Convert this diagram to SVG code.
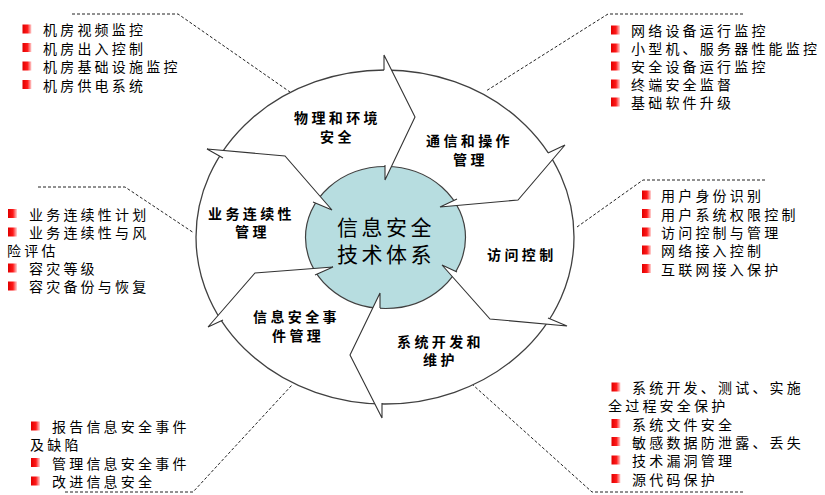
<svg xmlns="http://www.w3.org/2000/svg" xmlns:xlink="http://www.w3.org/1999/xlink" width="825" height="495" viewBox="0 0 825 495">
<style>
text{font-family:"Noto Sans CJK SC","Noto Sans",sans-serif;fill:#000;dominant-baseline:central}
.li{font-size:14px;letter-spacing:3.2px}
.lb{font-size:14px;font-weight:bold;letter-spacing:3.4px}
.ct{font-size:21px;letter-spacing:3.5px}
.dash{fill:none;stroke:#222;stroke-width:1;stroke-dasharray:3 2}
.chev{fill:none;stroke:#333;stroke-width:1.1;stroke-linejoin:miter}
.wing{fill:#fff;stroke:none}
</style>
<defs>
<linearGradient id="rg" x1="0" y1="0" x2="1" y2="0">
<stop offset="0" stop-color="#e00000"/>
<stop offset="0.55" stop-color="#ff1a1a"/>
<stop offset="1" stop-color="#ffd6d6"/>
</linearGradient>
<rect id="b" width="9" height="9" fill="url(#rg)"/>
</defs>
<rect width="825" height="495" fill="#fff"/>

<g id="connectors">
<polyline class="dash" points="72,14 178,14 290,92"/>
<polyline class="dash" points="743,14 608,14 486,91"/>
<polyline class="dash" points="38,187 125,187 194,233"/>
<polyline class="dash" points="765,180 643,180 577,227"/>
<polyline class="dash" points="65,492 193,492 292,385"/>
<polyline class="dash" points="743,492 592,492 473,385"/>
</g>

<g id="cycle">
<ellipse cx="385" cy="237" rx="189" ry="167" fill="#fff" stroke="#404040" stroke-width="1.3"/>
<ellipse cx="385.5" cy="237.5" rx="80" ry="71" fill="#b7dde0" stroke="#404040" stroke-width="1.2"/>
<!-- wings -->
<polygon class="wing" points="384,55 415,117 385,80 384,70"/>
<polygon class="wing" points="415,117 385,180 385,165 385,155"/>
<polygon class="wing" points="565,145 518,200 539,158 548,153"/>
<polygon class="wing" points="518,200 440,207 457,199 466,194"/>
<polygon class="wing" points="490,319 442,265 457,272 466,276"/>
<polygon class="wing" points="567,326 490,319 539,313 548,318"/>
<polygon class="wing" points="350,355 380,293 380,308 380,318"/>
<polygon class="wing" points="382,418 350,355 382,393 382,403"/>
<polygon class="wing" points="255,273 333,267 315,275 306,280"/>
<polygon class="wing" points="208,327 255,273 232,315 223,320"/>
<polygon class="wing" points="207,149 285,156 232,162 223,158"/>
<polygon class="wing" points="285,156 332,210 313,202 304,198"/>
<!-- chevrons -->
<polyline class="chev" points="384,70 384,55 415,117 385,180 385,165"/>
<polyline class="chev" points="548,153 565,145 518,200 440,207 457,199"/>
<polyline class="chev" points="457,272 442,265 490,319 567,326 548,318"/>
<polyline class="chev" points="380,308 380,293 350,355 382,418 382,403"/>
<polyline class="chev" points="315,275 333,267 255,273 208,327 223,320"/>
<polyline class="chev" points="223,158 207,149 285,156 332,210 313,202"/>
</g>

<g id="center">
<text class="ct" x="337" y="226">信息安全</text>
<text class="ct" x="337" y="252.5">技术体系</text>
</g>

<g id="s-physical">
<text class="lb" x="294" y="116.5">物理和环境</text>
<text class="lb" x="320" y="136">安全</text>
</g>
<g id="s-comm">
<text class="lb" x="426" y="140">通信和操作</text>
<text class="lb" x="453" y="159">管理</text>
</g>
<g id="s-access">
<text class="lb" x="487" y="254">访问控制</text>
</g>
<g id="s-dev">
<text class="lb" x="397" y="341">系统开发和</text>
<text class="lb" x="423" y="359">维护</text>
</g>
<g id="s-incident">
<text class="lb" x="253" y="316">信息安全事</text>
<text class="lb" x="272" y="334.5">件管理</text>
</g>
<g id="s-continuity">
<text class="lb" x="208" y="212.5">业务连续性</text>
<text class="lb" x="235" y="231">管理</text>
</g>

<g id="list-physical">
<use href="#b" x="22.5" y="24.5"/><text class="li" x="43" y="29">机房视频监控</text>
<use href="#b" x="22.5" y="43"/><text class="li" x="43" y="47.5">机房出入控制</text>
<use href="#b" x="22.5" y="61.5"/><text class="li" x="43" y="66">机房基础设施监控</text>
<use href="#b" x="22.5" y="80"/><text class="li" x="43" y="84.5">机房供电系统</text>
</g>

<g id="list-comm">
<use href="#b" x="611" y="25.5"/><text class="li" x="631" y="30">网络设备运行监控</text>
<use href="#b" x="611" y="43.5"/><text class="li" x="631" y="48">小型机、服务器性能监控</text>
<use href="#b" x="611" y="61.5"/><text class="li" x="631" y="66">安全设备运行监控</text>
<use href="#b" x="611" y="79.5"/><text class="li" x="631" y="84">终端安全监督</text>
<use href="#b" x="611" y="97.5"/><text class="li" x="631" y="102">基础软件升级</text>
</g>

<g id="list-continuity">
<use href="#b" x="8" y="209"/><text class="li" x="29" y="213.5">业务连续性计划</text>
<use href="#b" x="8" y="227.5"/><text class="li" x="29" y="232">业务连续性与风</text>
<text class="li" x="7" y="250">险评估</text>
<use href="#b" x="8" y="263.5"/><text class="li" x="29" y="268">容灾等级</text>
<use href="#b" x="8" y="281.5"/><text class="li" x="29" y="286">容灾备份与恢复</text>
</g>

<g id="list-access">
<use href="#b" x="642" y="190.5"/><text class="li" x="661" y="195">用户身份识别</text>
<use href="#b" x="642" y="209"/><text class="li" x="661" y="213.5">用户系统权限控制</text>
<use href="#b" x="642" y="227.5"/><text class="li" x="661" y="232">访问控制与管理</text>
<use href="#b" x="642" y="245.5"/><text class="li" x="661" y="250">网络接入控制</text>
<use href="#b" x="642" y="264"/><text class="li" x="661" y="268.5">互联网接入保护</text>
</g>

<g id="list-incident">
<use href="#b" x="31" y="421.5"/><text class="li" x="52" y="426">报告信息安全事件</text>
<text class="li" x="30" y="444">及缺陷</text>
<use href="#b" x="31" y="458"/><text class="li" x="52" y="462.5">管理信息安全事件</text>
<use href="#b" x="31" y="476.5"/><text class="li" x="52" y="481">改进信息安全</text>
</g>

<g id="list-dev">
<use href="#b" x="611.5" y="382.5"/><text class="li" x="632" y="387">系统开发、测试、实施</text>
<text class="li" x="608" y="405">全过程安全保护</text>
<use href="#b" x="611.5" y="419"/><text class="li" x="632" y="423.5">系统文件安全</text>
<use href="#b" x="611.5" y="437"/><text class="li" x="632" y="441.5">敏感数据防泄露、丢失</text>
<use href="#b" x="611.5" y="455.5"/><text class="li" x="632" y="460">技术漏洞管理</text>
<use href="#b" x="611.5" y="474"/><text class="li" x="632" y="478.5">源代码保护</text>
</g>
</svg>
